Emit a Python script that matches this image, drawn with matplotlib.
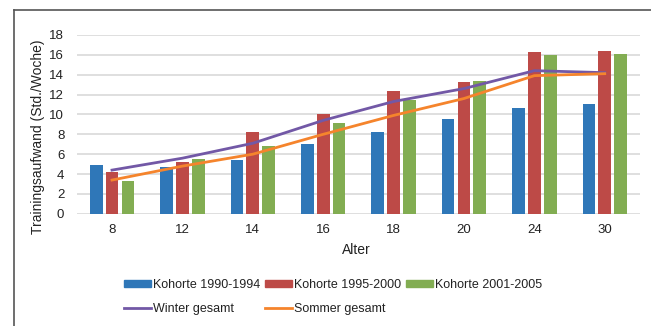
import numpy as np
import matplotlib.pyplot as plt
from matplotlib.lines import Line2D
from matplotlib.patches import Patch

# values
alter = ['8', '12', '14', '16', '18', '20', '24', '30']
k1990 = [4.9, 4.7, 5.4, 7.0, 8.2, 9.5, 10.6, 11.0]
k1995 = [4.2, 5.2, 8.2, 10.0, 12.4, 13.3, 16.3, 16.4]
k2001 = [3.3, 5.5, 6.8, 9.1, 11.5, 13.4, 16.0, 16.1]
winter = [4.4, 5.6, 7.1, 9.4, 11.3, 12.6, 14.4, 14.2]
sommer = [3.4, 4.8, 6.0, 8.0, 9.9, 11.6, 13.9, 14.1]

c_blue = '#2f77b8'
c_red = '#bd4a47'
c_green = '#82ad52'
c_purple = '#7258a6'
c_orange = '#f5842c'
txt = '#222222'

plt.rcParams['font.family'] = ['Liberation Sans', 'DejaVu Sans']

fig = plt.figure(figsize=(6.51, 3.26), dpi=100)
ax = fig.add_axes([0.118, 0.344, 0.865, 0.549])

x = np.arange(len(alter))
w = 0.18
off = 0.225
ax.bar(x - off, k1990, w, color=c_blue, zorder=3)
ax.bar(x, k1995, w, color=c_red, zorder=3)
ax.bar(x + off, k2001, w, color=c_green, zorder=3)
ax.plot(x, winter, color=c_purple, lw=2.0, zorder=4)
ax.plot(x, sommer, color=c_orange, lw=2.0, zorder=4)

ax.set_xlim(-0.5, len(alter) - 0.5)
ax.set_ylim(0, 18)
ax.set_yticks(np.arange(0, 19, 2))
ax.set_xticks(x)
ax.set_xticklabels(alter)
ax.grid(axis='y', color='#dcdcdc', lw=1.3, zorder=0)
for s in ax.spines.values():
    s.set_visible(False)
ax.tick_params(length=0, labelsize=9.5, labelcolor=txt)
ax.tick_params(axis='x', pad=7)
ax.tick_params(axis='y', pad=9)
ax.set_xlabel('Alter', fontsize=10, color=txt)
ax.set_ylabel('Trainingsaufwand (Std./Woche)', fontsize=10, color=txt)
ax.xaxis.set_label_coords(0.497, -0.165)
ax.yaxis.set_label_coords(-0.057, 0.43)

handles = [
    Patch(color=c_blue, label='Kohorte 1990-1994'),
    Line2D([], [], color=c_purple, lw=2.0, label='Winter gesamt'),
    Patch(color=c_red, label='Kohorte 1995-2000'),
    Line2D([], [], color=c_orange, lw=2.0, label='Sommer gesamt'),
    Patch(color=c_green, label='Kohorte 2001-2005'),
]
leg = fig.legend(handles=handles, ncol=3, loc='center left',
                 bbox_to_anchor=(0.19, 0.088), frameon=False,
                 fontsize=9, handlelength=2.2, handleheight=0.5,
                 handletextpad=0.15, columnspacing=0.35, labelspacing=0.95,
                 borderaxespad=0, borderpad=0)
for t in leg.get_texts():
    t.set_color(txt)

# frame lines of the cropped figure
fig.add_artist(Line2D([14 / 651, 14 / 651], [0, 1 - 10 / 326],
                      transform=fig.transFigure, color='#555555', lw=1.2))
fig.add_artist(Line2D([14 / 651, 1], [1 - 10 / 326, 1 - 10 / 326],
                      transform=fig.transFigure, color='#555555', lw=1.2))

plt.savefig('out.png', dpi=100)
